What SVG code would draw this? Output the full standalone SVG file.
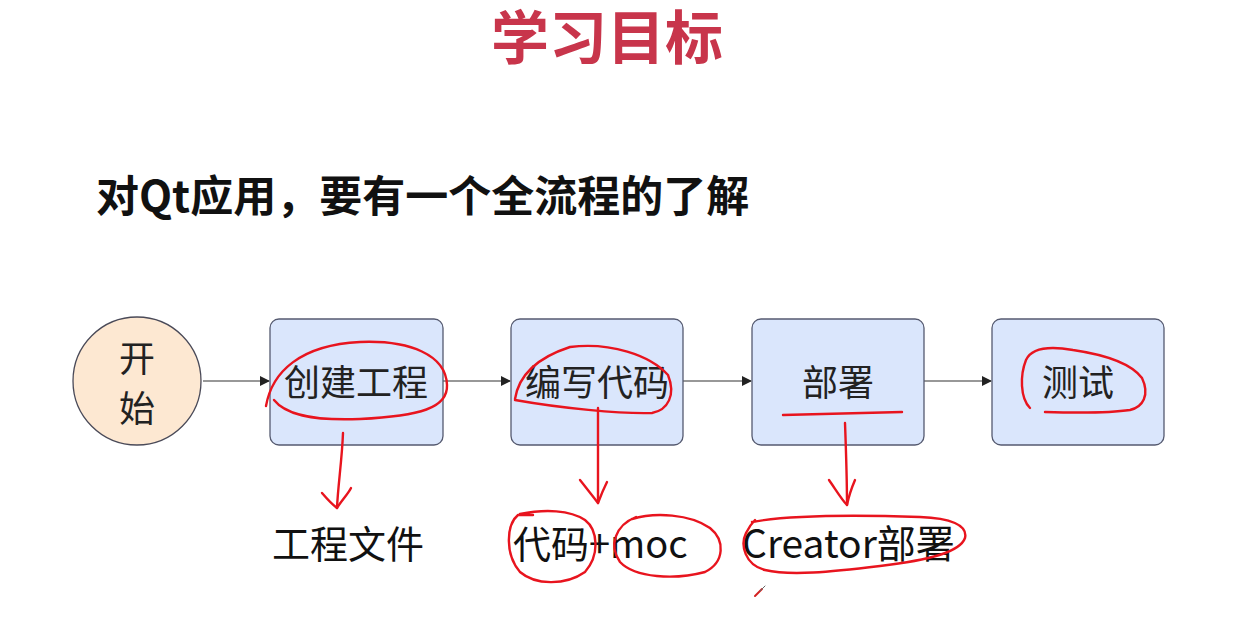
<svg xmlns="http://www.w3.org/2000/svg" width="1241" height="639" viewBox="0 0 1241 639">
<style>
  .cjk { font-family: "Noto Sans CJK SC", "Noto Sans", sans-serif; }
  .title { font-size: 58px; font-weight: bold; fill: #c8354b; }
  .sub { font-size: 43px; font-weight: bold; fill: #111; }
  .box { fill: #dae6fc; stroke: #555a70; stroke-width: 1.3; }
  .start { fill: #fde8d2; stroke: #4a4a58; stroke-width: 1.3; }
  .lbl { font-size: 36px; fill: #222; text-anchor: middle; }
  .out { font-size: 38px; fill: #111; }
  .conn { stroke: #333; stroke-width: 1.2; fill: none; }
  .ink { stroke: #e8141e; stroke-width: 2.4; fill: none; stroke-linecap: round; stroke-linejoin: round; }
</style>
<defs>
  <marker id="ah" markerWidth="10" markerHeight="10" refX="9" refY="5" orient="auto" markerUnits="userSpaceOnUse">
    <path d="M0,0 L10,5 L0,10 Z" fill="#222"/>
  </marker>
</defs>
<rect width="1241" height="639" fill="#ffffff"/>
<text class="cjk title" x="607" y="59" text-anchor="middle">学习目标</text>
<text class="cjk sub" x="96" y="212">对Qt应用，要有一个全流程的了解</text>

<g id="connectors">
  <line class="conn" x1="203" y1="381" x2="269" y2="381" marker-end="url(#ah)"/>
  <line class="conn" x1="443" y1="381" x2="510" y2="381" marker-end="url(#ah)"/>
  <line class="conn" x1="683" y1="381" x2="751" y2="381" marker-end="url(#ah)"/>
  <line class="conn" x1="924" y1="381" x2="991" y2="381" marker-end="url(#ah)"/>
</g>

<g id="node-start">
  <circle class="start" cx="137" cy="381" r="64"/>
  <text class="cjk lbl" x="137" y="372">开</text>
  <text class="cjk lbl" x="137" y="422">始</text>
</g>
<g id="node-create">
  <rect class="box" x="270" y="319" width="173" height="126" rx="9"/>
  <text class="cjk lbl" x="356" y="396">创建工程</text>
</g>
<g id="node-code">
  <rect class="box" x="511" y="319" width="172" height="126" rx="9"/>
  <text class="cjk lbl" x="597" y="396">编写代码</text>
</g>
<g id="node-deploy">
  <rect class="box" x="752" y="319" width="172" height="126" rx="9"/>
  <text class="cjk lbl" x="838" y="396">部署</text>
</g>
<g id="node-test">
  <rect class="box" x="992" y="319" width="172" height="126" rx="9"/>
  <text class="cjk lbl" x="1078" y="396">测试</text>
</g>

<g id="outputs">
  <text class="cjk out" x="272" y="558">工程文件</text>
  <text class="cjk out" x="513" y="558">代码+moc</text>
  <text class="cjk out" x="742" y="558" style="font-size:39px">Creator部署</text>
</g>

<g id="annotations">
  <path class="ink" d="M266 406 C272 372 300 345 360 342 C410 340 446 355 447 385 C448 408 420 416 360 419 C310 421 285 414 274 400"/>
  <path class="ink" d="M343 433 C342 460 338 485 337 508"/>
  <path class="ink" d="M322 493 C328 500 333 505 337 508 C342 500 348 494 351 488"/>

  <path class="ink" d="M515 399 C518 380 530 360 570 347 C610 342 650 355 668 375 C676 395 668 410 652 413 C620 414 560 408 515 400"/>
  <path class="ink" d="M598 408 L598 503"/>
  <path class="ink" d="M580 480 C588 490 594 498 598 503 C601 495 604 488 607 482"/>

  <path class="ink" d="M783 415 L902 412"/>
  <path class="ink" d="M845 423 C846 450 847 480 847 505"/>
  <path class="ink" d="M829 480 C836 490 842 500 847 505 C849 495 852 487 855 480"/>

  <path class="ink" d="M1030 408 C1020 398 1020 375 1026 360 C1032 347 1050 346 1073 350 C1100 354 1130 362 1142 378 C1150 395 1143 407 1130 410 C1110 413 1080 413 1045 412"/>

  <path class="ink" d="M533 515 L518 515 C506 525 505 555 520 572 C535 585 565 586 585 572 C600 555 598 530 585 520 C570 510 545 509 520 514"/>
  <path class="ink" d="M636 517 C616 525 608 545 620 562 C635 578 675 580 705 572 C725 562 725 540 710 528 C690 514 655 512 632 519"/>
  <path class="ink" d="M752 522 C790 515 860 515 920 517 C950 518 968 525 965 538 C960 552 930 560 880 566 C830 572 790 576 765 570 C745 565 740 545 746 533 C749 527 752 523 755 520"/>

  <path d="M755 596 L762 589" stroke="#d42020" stroke-width="2" stroke-linecap="round"/>
  <path d="M760 591 L765 586" stroke="#666" stroke-width="1" stroke-linecap="round"/>
</g>
</svg>
